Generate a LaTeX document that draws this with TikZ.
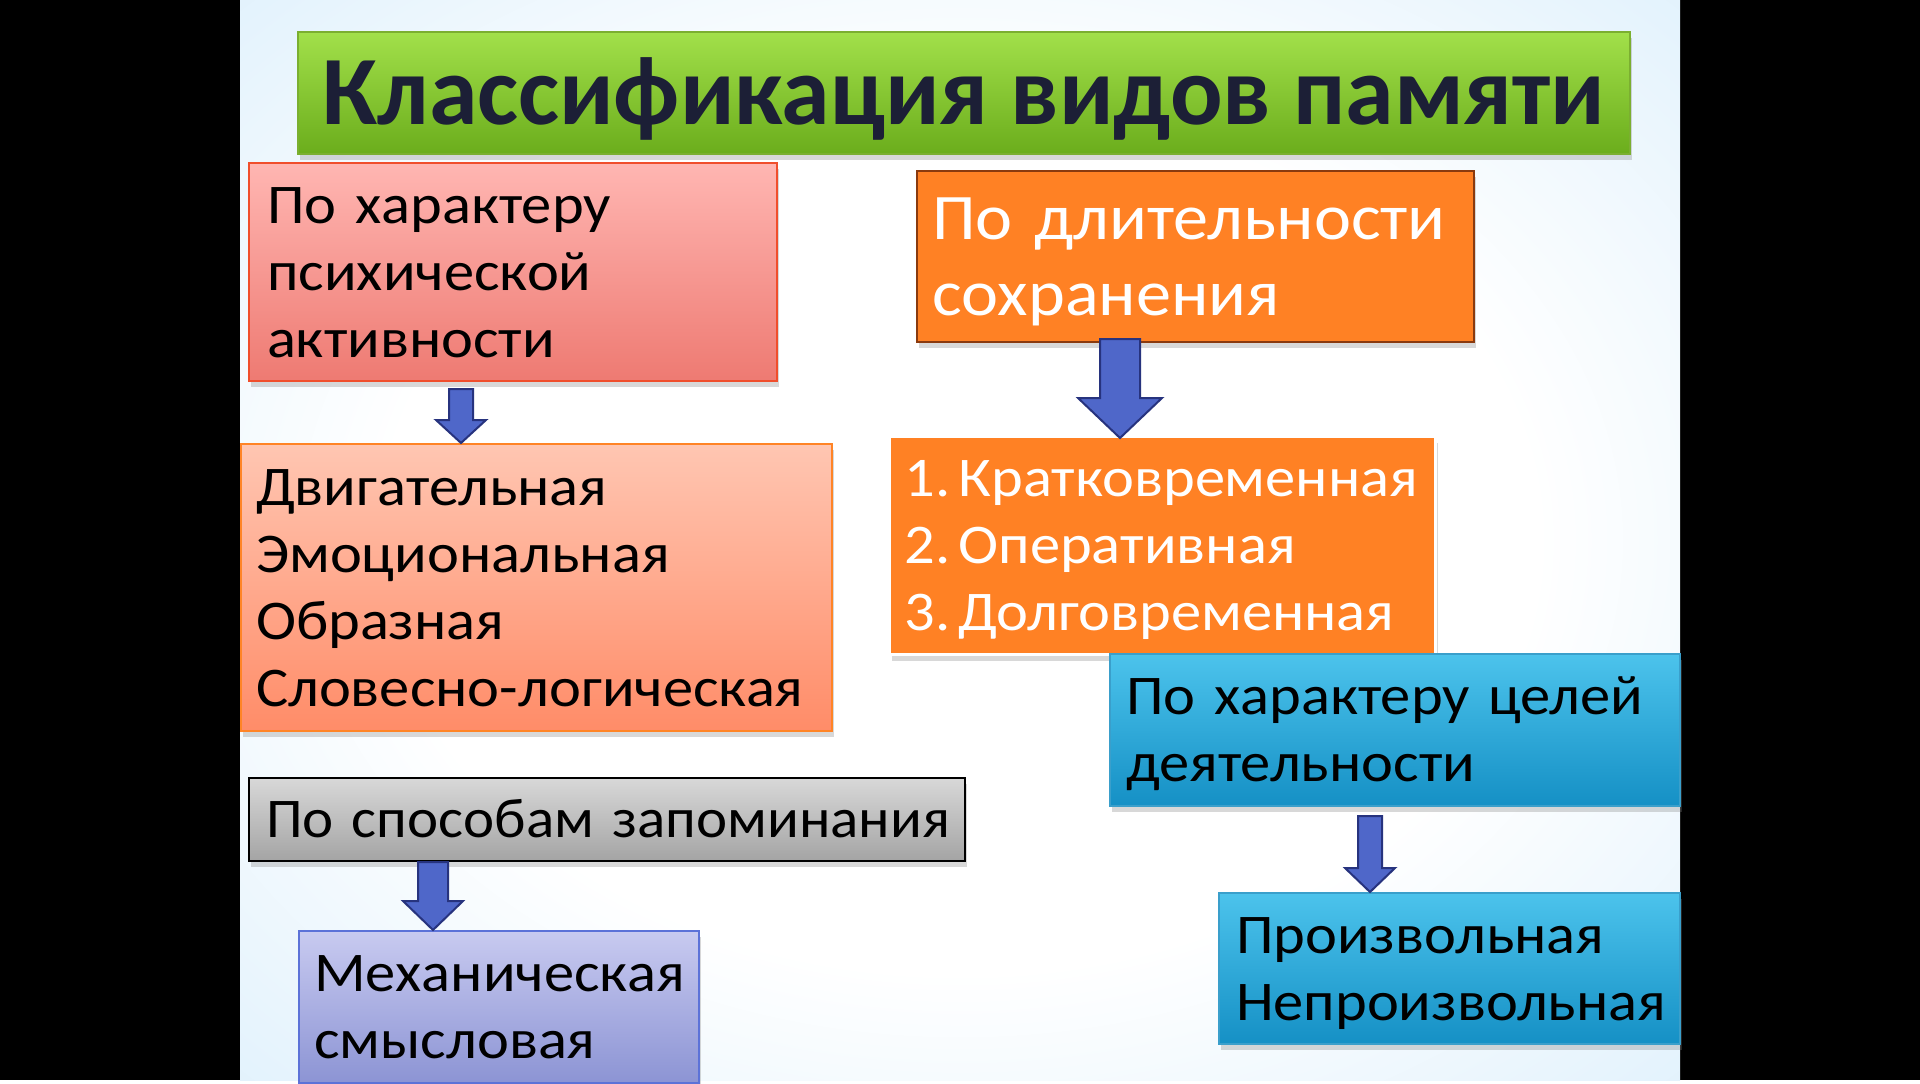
\documentclass[tikz,border=0pt]{standalone}
\usepackage{fontspec}
\usepackage{graphicx}
\setmainfont{Carlito}[FakeStretch=1.08,WordSpace=0.8]
\newfontfamily\titlefont{Carlito}
\usetikzlibrary{shadows,calc}

\definecolor{skyedge}{HTML}{A0D2F6}
\definecolor{skymid}{HTML}{C8E6FA}
\definecolor{titlenavy}{HTML}{1C1F36}
\definecolor{titletop}{HTML}{A2E04A}
\definecolor{titlebot}{HTML}{6BAD1C}
\definecolor{titleline}{HTML}{7BAF30}
\definecolor{pinktop}{HTML}{FFB6B2}
\definecolor{pinkbot}{HTML}{EE7A72}
\definecolor{pinkline}{HTML}{F04E2C}
\definecolor{salmontop}{HTML}{FFC6B2}
\definecolor{salmonbot}{HTML}{FF8C68}
\definecolor{salmonline}{HTML}{FF8426}
\definecolor{greytop}{HTML}{D8D8D8}
\definecolor{greybot}{HTML}{A4A4A4}
\definecolor{lavtop}{HTML}{C8CAF0}
\definecolor{lavbot}{HTML}{8C94D4}
\definecolor{lavline}{HTML}{5C72D8}
\definecolor{orangefill}{HTML}{FF8124}
\definecolor{orangeline}{HTML}{8A3A0E}
\definecolor{cyantop}{HTML}{4CC3EC}
\definecolor{cyanbot}{HTML}{1590C5}
\definecolor{cyanline}{HTML}{3A9FCB}
\definecolor{arrowfill}{HTML}{4F67C9}
\definecolor{arrowline}{HTML}{27337E}

\pgfdeclareradialshading{slidebg}{\pgfpoint{0bp}{0bp}}{color(0bp)=(white); color(20bp)=(white);
  color(50bp)=(skymid); color(70bp)=(skyedge)}

% block arrow: tail coordinate, tip coordinate, shaft half width, head half width, head length
\newcommand{\blkarrow}[5]{%
  \draw[blockarrow] let \p1=(#1), \p2=(#2) in
    (\x2,\y2) -- (\x2+#4pt,\y2+#5pt) -- (\x2+#3pt,\y2+#5pt) -- (\x2+#3pt,\y1)
    -- (\x2-#3pt,\y1) -- (\x2-#3pt,\y2+#5pt) -- (\x2-#4pt,\y2+#5pt) -- cycle;}

\begin{document}
\begin{tikzpicture}[x=1pt,y=-1pt,
  box/.style={rectangle, anchor=north west, inner ysep=0pt, align=left,
    line width=2pt, text height=36pt, text depth=0pt,
    font=\fontsize{56}{67}\selectfont,
    drop shadow={shadow xshift=2pt, shadow yshift=-6pt, opacity=.3}},
  blockarrow/.style={fill=arrowfill, draw=arrowline, line width=2pt, line join=miter}]

  % slide background
  \fill[black] (0,0) rectangle (1920,1080);
  \shade[shading=slidebg] (240,0) rectangle (1680,1080);

  \node [box, draw=titleline, top color=titletop, bottom color=titlebot, align=center,
    minimum width=1332, minimum height=122, text height=63pt, text=titlenavy,
    font=\fontsize{98}{110}\titlefont\bfseries] (title) at (297,31)
    {Классификация видов памяти};

  \node [box, draw=pinkline, top color=pinktop, bottom color=pinkbot, text depth=134pt,
    minimum width=528, minimum height=218, inner xsep=18, text width=492] (mental) at (248,162)
    {По характеру\\психической\\активности};
  \node [box, draw=salmonline, top color=salmontop, bottom color=salmonbot, text depth=201pt,
    minimum width=591, minimum height=287, inner xsep=15, text width=561] (mentaltypes) at (240,443)
    {Двигательная\\Эмоциональная\\Образная\\Словесно-логическая};

  \node [box, draw=black, top color=greytop, bottom color=greybot,
    minimum width=716, minimum height=83, inner xsep=17, text width=682] (method) at (248,777)
    {\scalebox{0.975}[1]{По способам запоминания}};
  \node [box, draw=lavline, top color=lavtop, bottom color=lavbot, text depth=67pt,
    minimum width=400, minimum height=152, inner xsep=15, text width=370] (methodtypes) at (298,930)
    {Механическая\\смысловая};

  \node [box, draw=orangeline, fill=orangefill, text=white,
    minimum width=557, minimum height=171, inner xsep=15, text width=527,
    text height=42pt, text depth=76pt, font=\fontsize{65}{76}\selectfont] (duration) at (916,170)
    {По длительности\\сохранения};
  \node [box, draw=white, line width=3pt, fill=orangefill, text=white, text depth=134pt,
    minimum width=546, minimum height=218, inner xsep=15, text width=516] (durationtypes) at (888,435)
    {\makebox[54pt][l]{1.}Кратковременная\\\makebox[54pt][l]{2.}Оперативная\\\makebox[54pt][l]{3.}Долговременная};

  \node [box, draw=cyanline, top color=cyantop, bottom color=cyanbot, text depth=67pt,
    minimum width=570, minimum height=152, inner xsep=16, text width=538] (goal) at (1109,653)
    {По характеру целей\\деятельности};
  \node [box, draw=cyanline, top color=cyantop, bottom color=cyanbot, text depth=67pt,
    minimum width=461, minimum height=151, inner xsep=17, text width=427] (goaltypes) at (1218,892)
    {Произвольная\\Непроизвольная};

  % arrows
  \coordinate (mt) at ($(mental.south -| 461,0)+(0,7)$);
  \coordinate (mh) at (mentaltypes.north -| 461,0);
  \blkarrow{mt}{mh}{12}{25}{23}
  \coordinate (st) at (method.south -| 433,0);
  \coordinate (sh) at (methodtypes.north -| 433,0);
  \blkarrow{st}{sh}{15}{30}{29}
  \coordinate (dt) at ($(duration.south -| 1120,0)+(0,-4)$);
  \coordinate (dh) at ($(durationtypes.north -| 1120,0)+(0,3)$);
  \blkarrow{dt}{dh}{20}{42}{40}
  \coordinate (gt) at ($(goal.south -| 1370,0)+(0,9)$);
  \coordinate (gh) at (goaltypes.north -| 1370,0);
  \blkarrow{gt}{gh}{12}{25}{24}

  \useasboundingbox (0,0) rectangle (1920,1080);
\end{tikzpicture}
\end{document}
